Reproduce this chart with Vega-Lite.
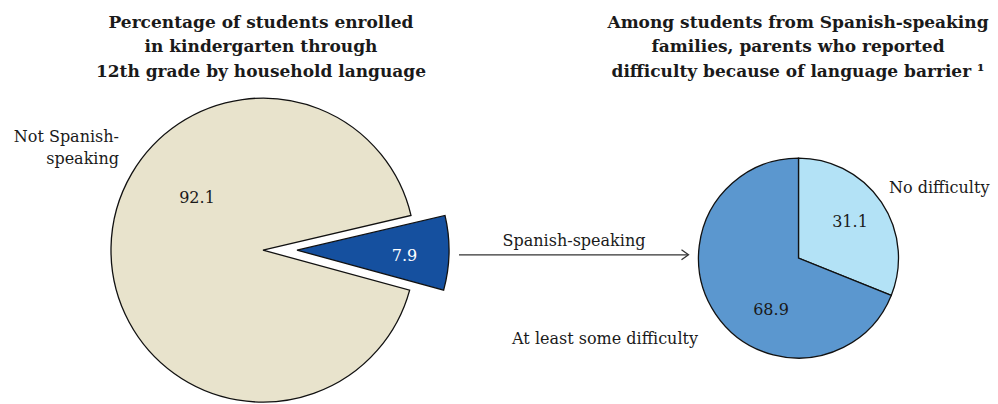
{
  "$schema": "https://vega.github.io/schema/vega-lite/v6.json",
  "width": 998,
  "height": 404,
  "padding": 0,
  "autosize": {"type": "fit", "contains": "padding"},
  "background": "white",
  "config": {
    "view": {"stroke": null},
    "text": {"font": "DejaVu Serif", "fontSize": 16, "fill": "#1a1a1a", "baseline": "alphabetic"}
  },
  "datasets": {
    "enroll": [
      {"category": "Spanish-speaking", "percent": 7.9},
      {"category": "Not Spanish-speaking", "percent": 92.1}
    ],
    "difficulty": [
      {"category": "No difficulty", "percent": 31.1},
      {"category": "At least some difficulty", "percent": 68.9}
    ]
  },
  "layer": [
    {
      "data": {"name": "enroll"},
      "mark": {"type": "arc", "outerRadius": 152, "stroke": "#111", "strokeWidth": 1.3},
      "encoding": {
        "x": {"datum": 263, "type": "quantitative", "scale": {"domain": [0, 998], "nice": false, "zero": false}, "axis": null},
        "y": {"datum": 252, "type": "quantitative", "scale": {"domain": [0, 404], "nice": false, "zero": false, "reverse": true}, "axis": null},
        "theta": {"field": "percent", "type": "quantitative", "stack": true, "scale": {"range": [1.3404, 7.6236]}},
        "order": {"field": "percent", "type": "quantitative", "sort": "ascending"},
        "color": {"field": "category", "type": "nominal", "legend": null,
          "scale": {"domain": ["Not Spanish-speaking", "Spanish-speaking", "No difficulty", "At least some difficulty"],
                    "range": ["#e8e3cc", "#15509f", "#b3e2f6", "#5b97cf"]}},
        "opacity": {"condition": {"test": "datum.category === 'Spanish-speaking'", "value": 0}, "value": 1}
      }
    },
    {
      "data": {"name": "enroll"},
      "mark": {"type": "arc", "outerRadius": 152, "stroke": "#111", "strokeWidth": 1.3},
      "encoding": {
        "x": {"datum": 297, "type": "quantitative", "scale": {"domain": [0, 998], "nice": false, "zero": false}, "axis": null},
        "y": {"datum": 252, "type": "quantitative", "scale": {"domain": [0, 404], "nice": false, "zero": false, "reverse": true}, "axis": null},
        "theta": {"field": "percent", "type": "quantitative", "stack": true, "scale": {"range": [1.3404, 7.6236]}},
        "order": {"field": "percent", "type": "quantitative", "sort": "ascending"},
        "color": {"field": "category", "type": "nominal", "legend": null},
        "opacity": {"condition": {"test": "datum.category === 'Spanish-speaking'", "value": 1}, "value": 0}
      }
    },
    {
      "data": {"name": "difficulty"},
      "mark": {"type": "arc", "outerRadius": 100, "stroke": "#111", "strokeWidth": 1.3},
      "encoding": {
        "x": {"datum": 798.5, "type": "quantitative", "scale": {"domain": [0, 998], "nice": false, "zero": false}, "axis": null},
        "y": {"datum": 260, "type": "quantitative", "scale": {"domain": [0, 404], "nice": false, "zero": false, "reverse": true}, "axis": null},
        "theta": {"field": "percent", "type": "quantitative", "stack": true, "scale": {"range": [0, 6.2832]}},
        "order": {"field": "percent", "type": "quantitative", "sort": "ascending"},
        "color": {"field": "category", "type": "nominal", "legend": null}
      }
    },
    {
      "data": {"values": [{}]},
      "mark": {"type": "rule", "stroke": "#333", "strokeWidth": 1.3},
      "encoding": {
        "x": {"datum": 459, "type": "quantitative", "scale": {"domain": [0, 998], "nice": false, "zero": false}, "axis": null},
        "x2": {"datum": 688},
        "y": {"datum": 256.7, "type": "quantitative", "scale": {"domain": [0, 404], "nice": false, "zero": false, "reverse": true}, "axis": null}
      }
    },
    {
      "data": {"values": [{}]},
      "mark": {"type": "point", "shape": "M-1.4,-1L0,0L-1.4,1", "size": 100, "filled": false, "stroke": "#333", "strokeWidth": 1.3, "opacity": 1},
      "encoding": {
        "x": {"datum": 688.5, "type": "quantitative", "scale": {"domain": [0, 998], "nice": false, "zero": false}, "axis": null},
        "y": {"datum": 256.7, "type": "quantitative", "scale": {"domain": [0, 404], "nice": false, "zero": false, "reverse": true}, "axis": null}
      }
    },
    {
      "data": {"values": [{}]},
      "mark": {"type": "text", "text": ["Percentage of students enrolled", "in kindergarten through", "12th grade by household language"], "fontWeight": "bold", "fontSize": 17, "lineHeight": 24.5, "align": "center"},
      "encoding": {
        "x": {"datum": 261, "type": "quantitative", "scale": {"domain": [0, 998], "nice": false, "zero": false}, "axis": null},
        "y": {"datum": 28, "type": "quantitative", "scale": {"domain": [0, 404], "nice": false, "zero": false, "reverse": true}, "axis": null}
      }
    },
    {
      "data": {"values": [{}]},
      "mark": {"type": "text", "text": ["Among students from Spanish-speaking", "families, parents who reported", "difficulty because of language barrier \u00b9"], "fontWeight": "bold", "fontSize": 17, "lineHeight": 24.5, "align": "center"},
      "encoding": {
        "x": {"datum": 798, "type": "quantitative", "scale": {"domain": [0, 998], "nice": false, "zero": false}, "axis": null},
        "y": {"datum": 28, "type": "quantitative", "scale": {"domain": [0, 404], "nice": false, "zero": false, "reverse": true}, "axis": null}
      }
    },
    {
      "data": {"name": "enroll"},
      "transform": [{"filter": "datum.category === 'Not Spanish-speaking'"}],
      "mark": {"type": "text", "align": "center"},
      "encoding": {
        "x": {"datum": 197, "type": "quantitative", "scale": {"domain": [0, 998], "nice": false, "zero": false}, "axis": null},
        "y": {"datum": 205, "type": "quantitative", "scale": {"domain": [0, 404], "nice": false, "zero": false, "reverse": true}, "axis": null},
        "text": {"field": "percent", "type": "quantitative", "format": ".1f"}
      }
    },
    {
      "data": {"name": "enroll"},
      "transform": [{"filter": "datum.category === 'Not Spanish-speaking'"}],
      "mark": {"type": "text", "align": "right", "text": ["Not Spanish-", "speaking"], "lineHeight": 22.5},
      "encoding": {
        "x": {"datum": 119, "type": "quantitative", "scale": {"domain": [0, 998], "nice": false, "zero": false}, "axis": null},
        "y": {"datum": 143, "type": "quantitative", "scale": {"domain": [0, 404], "nice": false, "zero": false, "reverse": true}, "axis": null}
      }
    },
    {
      "data": {"name": "enroll"},
      "transform": [{"filter": "datum.category === 'Spanish-speaking'"}],
      "mark": {"type": "text", "align": "center", "fill": "white"},
      "encoding": {
        "x": {"datum": 404.5, "type": "quantitative", "scale": {"domain": [0, 998], "nice": false, "zero": false}, "axis": null},
        "y": {"datum": 263, "type": "quantitative", "scale": {"domain": [0, 404], "nice": false, "zero": false, "reverse": true}, "axis": null},
        "text": {"field": "percent", "type": "quantitative", "format": ".1f"}
      }
    },
    {
      "data": {"name": "enroll"},
      "transform": [{"filter": "datum.category === 'Spanish-speaking'"}],
      "mark": {"type": "text", "align": "center"},
      "encoding": {
        "x": {"datum": 574, "type": "quantitative", "scale": {"domain": [0, 998], "nice": false, "zero": false}, "axis": null},
        "y": {"datum": 248, "type": "quantitative", "scale": {"domain": [0, 404], "nice": false, "zero": false, "reverse": true}, "axis": null},
        "text": {"field": "category", "type": "nominal"}
      }
    },
    {
      "data": {"name": "difficulty"},
      "transform": [{"filter": "datum.category === 'No difficulty'"}],
      "mark": {"type": "text", "align": "left"},
      "encoding": {
        "x": {"datum": 889, "type": "quantitative", "scale": {"domain": [0, 998], "nice": false, "zero": false}, "axis": null},
        "y": {"datum": 194, "type": "quantitative", "scale": {"domain": [0, 404], "nice": false, "zero": false, "reverse": true}, "axis": null},
        "text": {"field": "category", "type": "nominal"}
      }
    },
    {
      "data": {"name": "difficulty"},
      "transform": [{"filter": "datum.category === 'No difficulty'"}],
      "mark": {"type": "text", "align": "center"},
      "encoding": {
        "x": {"datum": 850, "type": "quantitative", "scale": {"domain": [0, 998], "nice": false, "zero": false}, "axis": null},
        "y": {"datum": 229, "type": "quantitative", "scale": {"domain": [0, 404], "nice": false, "zero": false, "reverse": true}, "axis": null},
        "text": {"field": "percent", "type": "quantitative", "format": ".1f"}
      }
    },
    {
      "data": {"name": "difficulty"},
      "transform": [{"filter": "datum.category === 'At least some difficulty'"}],
      "mark": {"type": "text", "align": "center"},
      "encoding": {
        "x": {"datum": 771, "type": "quantitative", "scale": {"domain": [0, 998], "nice": false, "zero": false}, "axis": null},
        "y": {"datum": 317, "type": "quantitative", "scale": {"domain": [0, 404], "nice": false, "zero": false, "reverse": true}, "axis": null},
        "text": {"field": "percent", "type": "quantitative", "format": ".1f"}
      }
    },
    {
      "data": {"name": "difficulty"},
      "transform": [{"filter": "datum.category === 'At least some difficulty'"}],
      "mark": {"type": "text", "align": "right"},
      "encoding": {
        "x": {"datum": 698, "type": "quantitative", "scale": {"domain": [0, 998], "nice": false, "zero": false}, "axis": null},
        "y": {"datum": 347, "type": "quantitative", "scale": {"domain": [0, 404], "nice": false, "zero": false, "reverse": true}, "axis": null},
        "text": {"field": "category", "type": "nominal"}
      }
    }
  ],
  "resolve": {"scale": {"theta": "independent"}}
}
